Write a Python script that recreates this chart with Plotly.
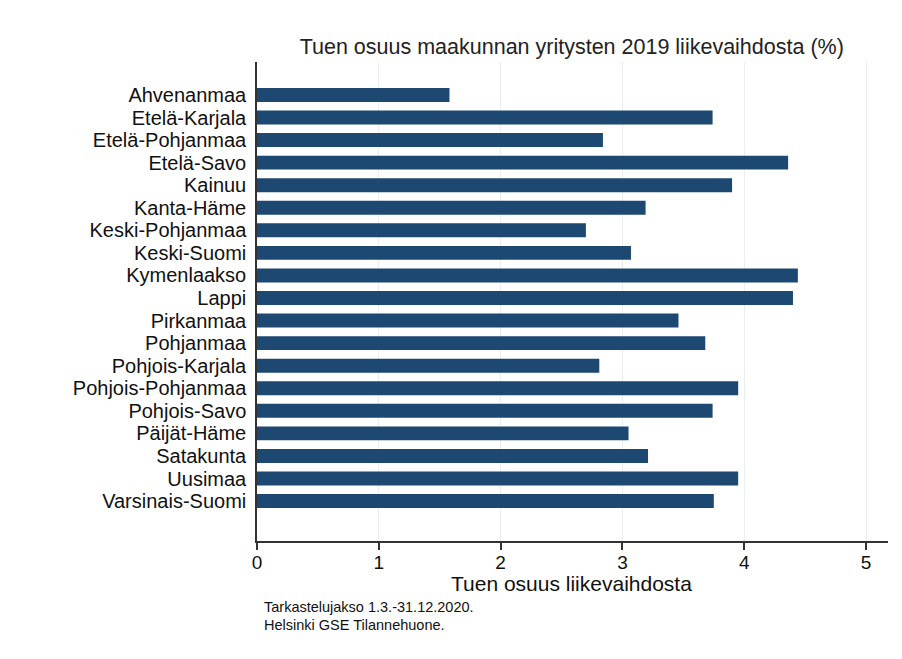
import plotly.graph_objects as go

regions = ['Ahvenanmaa', 'Etelä-Karjala', 'Etelä-Pohjanmaa', 'Etelä-Savo', 'Kainuu',
           'Kanta-Häme', 'Keski-Pohjanmaa', 'Keski-Suomi', 'Kymenlaakso', 'Lappi',
           'Pirkanmaa', 'Pohjanmaa', 'Pohjois-Karjala', 'Pohjois-Pohjanmaa', 'Pohjois-Savo',
           'Päijät-Häme', 'Satakunta', 'Uusimaa', 'Varsinais-Suomi']
share = [1.58, 3.74, 2.84, 4.36, 3.90,
         3.19, 2.70, 3.07, 4.44, 4.40,
         3.46, 3.68, 2.81, 3.95, 3.74,
         3.05, 3.21, 3.95, 3.75]
x_ticks = [0, 1, 2, 3, 4, 5]

FONT = 'Liberation Sans, Arial, sans-serif'

fig = go.Figure(go.Bar(
    x=share, y=regions, orientation='h',
    marker=dict(color='#1d4871', line=dict(width=0)),
    width=0.62,
))

# page body adds an 8px offset, margins compensate for it
fig.update_layout(
    width=902, height=659,
    margin=dict(l=249, r=22, t=54, b=126, autoexpand=False),
    paper_bgcolor='white', plot_bgcolor='white',
    font=dict(family=FONT, size=19, color='#111111'),
    showlegend=False,
    title=dict(text='Tuen osuus maakunnan yritysten 2019 liikevaihdosta (%)',
               x=0.625, xanchor='center', y=0.942, yanchor='middle',
               font=dict(family=FONT, size=21.5, color='#222222')),
    xaxis=dict(range=[0, 5.18], tickvals=x_ticks, showgrid=True, gridcolor='#e9eef2',
               gridwidth=1, zeroline=False, showline=True, linecolor='#333333', linewidth=1.5,
               ticks='outside', ticklen=7, tickcolor='#333333', tickwidth=1.5,
               ticklabelstandoff=-4, tickfont=dict(size=19, color='#111111')),
    yaxis=dict(categoryorder='array', categoryarray=regions, range=[19.77, -1.46],
               tickmode='array', tickvals=regions, ticktext=regions,
               showgrid=False, zeroline=False, showline=True, linecolor='#333333', linewidth=1.5,
               ticks='', ticklabelstandoff=5, tickfont=dict(size=20, color='#111111')),
    annotations=[
        dict(text='Tuen osuus liikevaihdosta', xref='paper', yref='paper',
             x=0.499, y=-0.0877, xanchor='center', yanchor='middle', showarrow=False,
             font=dict(family=FONT, size=21, color='#111111')),
        dict(text='Tarkastelujakso 1.3.-31.12.2020.', xref='paper', yref='paper',
             x=0.008, y=-0.138, xanchor='left', yanchor='middle', showarrow=False,
             font=dict(family=FONT, size=14.5, color='#111111')),
        dict(text='Helsinki GSE Tilannehuone.', xref='paper', yref='paper',
             x=0.008, y=-0.175, xanchor='left', yanchor='middle', showarrow=False,
             font=dict(family=FONT, size=14.5, color='#111111')),
    ],
)

fig.write_html('out.html')
